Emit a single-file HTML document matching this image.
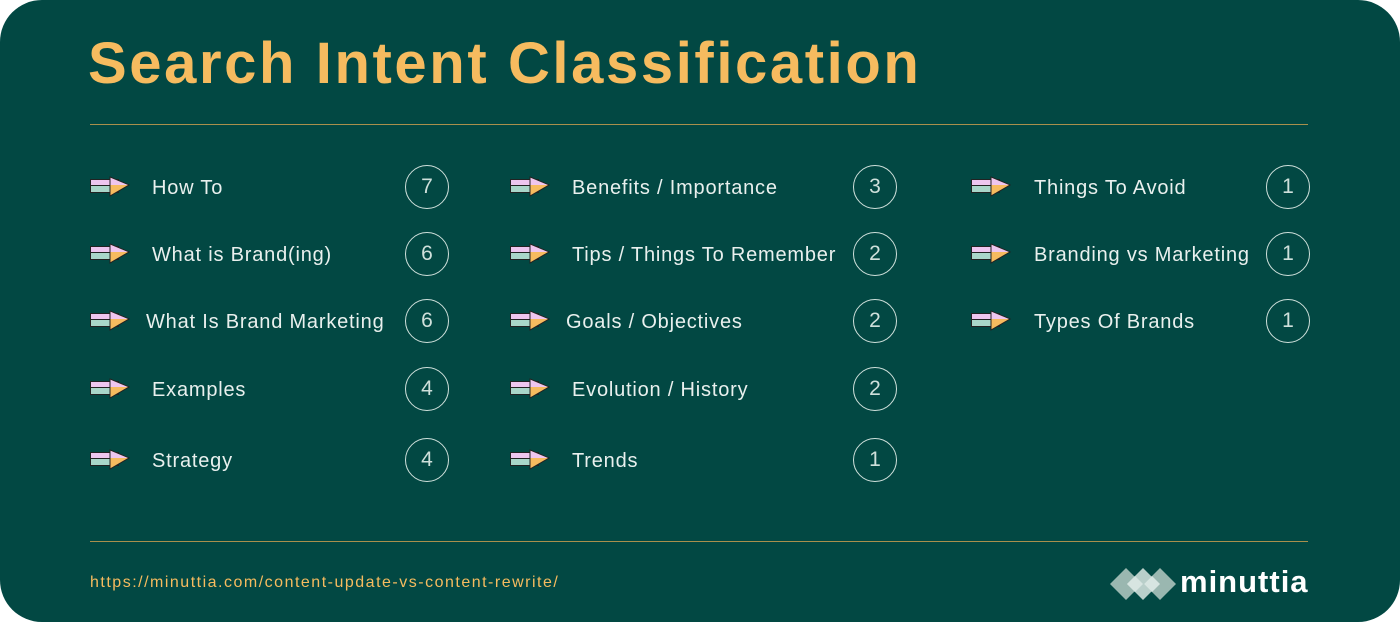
<!DOCTYPE html>
<html><head><meta charset="utf-8"><style>
body{margin:0;width:1400px;height:622px;background:#fff;overflow:hidden;font-family:"Liberation Sans",sans-serif}
#card{position:absolute;left:0;top:0;width:1400px;height:622px;background:#024843;border-radius:42px}
h1{position:absolute;left:88px;top:30px;margin:0;font-size:58px;font-weight:bold;color:#f6bb5f;letter-spacing:2.6px}
.rule{position:absolute;left:90px;width:1218px;height:1px;background:#a98f4c}
.item{position:absolute;height:44px}
.arrow{position:absolute;left:0;top:11px}
.label{position:absolute;top:12px;font-size:20px;color:#e9f0ee;white-space:nowrap;letter-spacing:0.8px}
.badge{position:absolute;top:0;width:42px;height:42px;border:1.5px solid #cfe0db;border-radius:50%;color:#cfe0db;font-size:21px;text-align:center;line-height:42px}
#url{position:absolute;left:90px;top:574px;font-size:16px;color:#f6bb5f;letter-spacing:1.5px}
#logo{position:absolute;left:1110px;top:566px}
#logotext{position:absolute;left:1180px;top:564px;font-size:31px;font-weight:bold;color:#fff;letter-spacing:1px}
</style></head><body>
<div id="card">
<h1>Search Intent Classification</h1>
<div class="rule" style="top:124px"></div>
<div class="rule" style="top:541px"></div>
<div id="items"></div>
<div id="url">https://minuttia.com/content-update-vs-content-rewrite/</div>
<svg id="logo" width="66" height="36">
<polygon points="0,18 16,2 32,18 16,34" fill="#9ab7b0"/>
<polygon points="17,18 33,2 49,18 33,34" fill="#b9cfca"/>
<polygon points="34,18 50,2 66,18 50,34" fill="#9ab7b0"/>
<polygon points="17,18 25,10 33,18 25,26" fill="#d7e5e1"/>
<polygon points="34,18 42,10 50,18 42,26" fill="#d7e5e1"/>
</svg>
<div id="logotext">minuttia</div>
</div>
<script>
const labels=[["How To","What is Brand(ing)","What Is Brand Marketing","Examples","Strategy"],
["Benefits / Importance","Tips / Things To Remember","Goals / Objectives","Evolution / History","Trends"],
["Things To Avoid","Branding vs Marketing","Types Of Brands"]];
const counts=[[7,6,6,4,4],[3,2,2,2,1],[1,1,1]];
const colX=[90,510,971], badgeX=[405,853,1266], textOff=[[62,62,56,62,62],[62,62,56,62,62],[63,63,63]];
const rowY=[165,232,299,367,438];
const wrap=document.getElementById('items');
labels.forEach((col,c)=>col.forEach((t,r)=>{
 const d=document.createElement('div');d.className='item';
 
 
 d.style.left=colX[c]+'px';d.style.top=rowY[r]+'px';d.style.width=(badgeX[c]-colX[c]+46)+'px';
 d.innerHTML='<svg class="arrow" width="40" height="22"><rect x="0.5" y="3.5" width="28" height="6" fill="#eec6ef" stroke="#222" stroke-width="1"/><rect x="0.5" y="9.5" width="28" height="7" fill="#a9d6c9" stroke="#222" stroke-width="1"/><polygon points="20,1 39,9 20,20" fill="#f6bb5f" stroke="#222" stroke-width="1"/><polygon points="20.5,1.8 38,9 20.5,9" fill="#eec6ef"/></svg>'+
 '<span class="label" style="left:'+textOff[c][r]+'px">'+t+'</span>'+
 '<div class="badge" style="left:'+(badgeX[c]-colX[c])+'px">'+counts[c][r]+'</div>';
 d.querySelector('.label');
 d.querySelector('.badge');
 wrap.appendChild(d);
}));
</script>
</body></html>
